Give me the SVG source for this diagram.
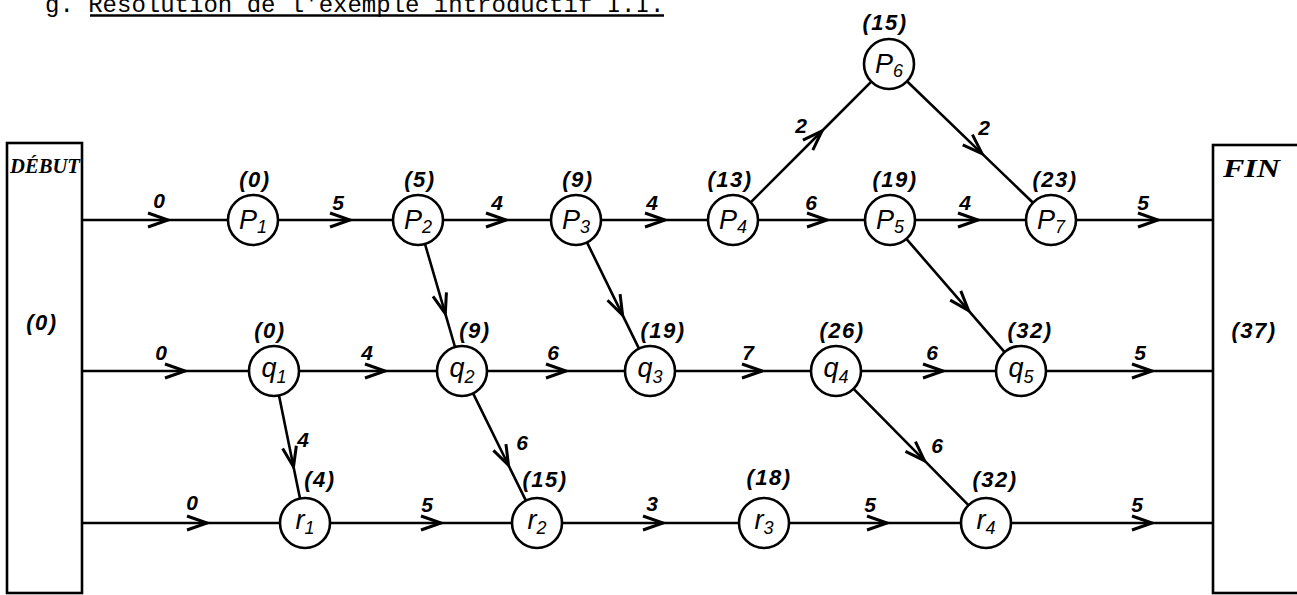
<svg xmlns="http://www.w3.org/2000/svg" width="1297" height="595" viewBox="0 0 1297 595">
<style>
.edge{fill:none;stroke:#000;stroke-width:2.6;marker-mid:url(#ah)}
.node circle{fill:#fff;stroke:#000;stroke-width:2.6}
.nl{font-family:"Liberation Sans",Arial,sans-serif;font-style:italic;font-size:27px;text-anchor:middle}
.sub{font-size:18px}
.tl{font-family:"Liberation Sans",Arial,sans-serif;font-style:italic;font-weight:bold;font-size:22px;text-anchor:middle;letter-spacing:1.5px}
.el{font-family:"Liberation Sans",Arial,sans-serif;font-style:italic;font-weight:bold;font-size:21px;text-anchor:middle}
.box{fill:#fff;stroke:#000;stroke-width:2.6}
.bt{font-family:"Liberation Serif","Times New Roman",serif;font-style:italic;font-weight:bold}
</style>
<defs>
<marker id="ah" markerUnits="userSpaceOnUse" markerWidth="40" markerHeight="40" viewBox="-20 -20 40 40" refX="0" refY="0" orient="auto" overflow="visible">
<path d="M-20,-7 L0,0 L-20,7" fill="none" stroke="#000" stroke-width="3"/>
</marker>
</defs>
<rect width="1297" height="595" fill="#fff"/>

<g id="title">
<text x="45" y="12" font-family="'Liberation Mono','Courier New',monospace" font-size="24">g. Résolution de l'exemple introductif I.I.</text>
<line x1="90" y1="15.5" x2="664" y2="15.5" stroke="#000" stroke-width="2.5"/>
</g>

<g id="debut">
<rect class="box" x="7" y="143" width="75" height="450"/>
<text class="bt" x="10" y="173" font-size="20" textLength="70" lengthAdjust="spacingAndGlyphs">DÉBUT</text>
<text class="tl" x="42" y="330" font-size="26" font-weight="normal">(0)</text>
</g>
<g id="fin">
<rect class="box" x="1213" y="145" width="90" height="448"/>
<text class="bt" x="1223" y="177" font-size="26" textLength="57" lengthAdjust="spacingAndGlyphs">FIN</text>
<text class="tl" x="1254" y="338" font-size="27" font-weight="normal">(37)</text>
</g>

<g id="connectors">
<path class="edge" d="M82,220 L168,220 L228,220"/>
<path class="edge" d="M278,220 L350,220 L393,220"/>
<path class="edge" d="M443,220 L506,220 L551,220"/>
<path class="edge" d="M601,220 L665,220 L708,220"/>
<path class="edge" d="M758,220 L827,220 L865,220"/>
<path class="edge" d="M915,220 L978,220 L1026,220"/>
<path class="edge" d="M1076,220 L1158,220 L1213,220"/>
<path class="edge" d="M750.7,202.3 L822,131 L871.3,81.7"/>
<path class="edge" d="M907,81.3 L982,153.6 L1033,202.7"/>
<path class="edge" d="M425,244 L445.3,313.6 L455,347"/>
<path class="edge" d="M587,242.4 L622.6,315.1 L639,348.6"/>
<path class="edge" d="M906.4,238.9 L968.6,310.6 L1004.6,352.1"/>

<path class="edge" d="M82,371 L185,371 L249,371"/>
<path class="edge" d="M299,371 L385,371 L437,371"/>
<path class="edge" d="M487,371 L566,371 L625,371"/>
<path class="edge" d="M675,371 L762,371 L811,371"/>
<path class="edge" d="M861,371 L943,371 L996,371"/>
<path class="edge" d="M1046,371 L1152,371 L1213,371"/>
<path class="edge" d="M279,395.5 L293.5,466.8 L300,498.5"/>
<path class="edge" d="M473.1,393.4 L508.5,465.2 L525.9,500.6"/>
<path class="edge" d="M853.6,388.8 L924.5,460.7 L968.4,505.2"/>

<path class="edge" d="M82,523 L207,523 L280,523"/>
<path class="edge" d="M330,523 L441,523 L512,523"/>
<path class="edge" d="M562,523 L663,523 L739,523"/>
<path class="edge" d="M789,523 L887,523 L961,523"/>
<path class="edge" d="M1011,523 L1152,523 L1213,523"/>

<text class="el" x="159" y="208">0</text>
<text class="el" x="338" y="210">5</text>
<text class="el" x="497" y="210">4</text>
<text class="el" x="652" y="210">4</text>
<text class="el" x="811" y="210">6</text>
<text class="el" x="965" y="210">4</text>
<text class="el" x="1143" y="210">5</text>
<text class="el" x="801" y="133">2</text>
<text class="el" x="984" y="135">2</text>
<text class="el" x="161" y="360">0</text>
<text class="el" x="367" y="360">4</text>
<text class="el" x="553" y="360">6</text>
<text class="el" x="748" y="360">7</text>
<text class="el" x="932" y="360">6</text>
<text class="el" x="1140" y="360">5</text>
<text class="el" x="303" y="447">4</text>
<text class="el" x="522" y="450">6</text>
<text class="el" x="937" y="453">6</text>
<text class="el" x="192" y="510">0</text>
<text class="el" x="427" y="512">5</text>
<text class="el" x="652" y="511">3</text>
<text class="el" x="870" y="512">5</text>
<text class="el" x="1137" y="512">5</text>
</g>

<g id="p1" class="node"><circle cx="253" cy="220" r="25"/><text class="nl" x="253" y="229">P<tspan class="sub" dy="4">1</tspan></text><text class="tl" x="255" y="187">(0)</text></g>
<g id="p2" class="node"><circle cx="418" cy="220" r="25"/><text class="nl" x="418" y="229">P<tspan class="sub" dy="4">2</tspan></text><text class="tl" x="420" y="187">(5)</text></g>
<g id="p3" class="node"><circle cx="576" cy="220" r="25"/><text class="nl" x="576" y="229">P<tspan class="sub" dy="4">3</tspan></text><text class="tl" x="578" y="187">(9)</text></g>
<g id="p4" class="node"><circle cx="733" cy="220" r="25"/><text class="nl" x="733" y="229">P<tspan class="sub" dy="4">4</tspan></text><text class="tl" x="730" y="187">(13)</text></g>
<g id="p5" class="node"><circle cx="890" cy="220" r="25"/><text class="nl" x="890" y="229">P<tspan class="sub" dy="4">5</tspan></text><text class="tl" x="895" y="187">(19)</text></g>
<g id="p6" class="node"><circle cx="889" cy="64" r="25"/><text class="nl" x="889" y="73">P<tspan class="sub" dy="4">6</tspan></text><text class="tl" x="885" y="30">(15)</text></g>
<g id="p7" class="node"><circle cx="1051" cy="220" r="25"/><text class="nl" x="1051" y="229">P<tspan class="sub" dy="4">7</tspan></text><text class="tl" x="1055" y="187">(23)</text></g>

<g id="q1" class="node"><circle cx="274" cy="371" r="25"/><text class="nl" x="274" y="377">q<tspan class="sub" dy="6">1</tspan></text><text class="tl" x="270" y="338">(0)</text></g>
<g id="q2" class="node"><circle cx="462" cy="371" r="25"/><text class="nl" x="462" y="377">q<tspan class="sub" dy="6">2</tspan></text><text class="tl" x="475" y="338">(9)</text></g>
<g id="q3" class="node"><circle cx="650" cy="371" r="25"/><text class="nl" x="650" y="377">q<tspan class="sub" dy="6">3</tspan></text><text class="tl" x="663" y="338">(19)</text></g>
<g id="q4" class="node"><circle cx="836" cy="371" r="25"/><text class="nl" x="836" y="377">q<tspan class="sub" dy="6">4</tspan></text><text class="tl" x="842" y="338">(26)</text></g>
<g id="q5" class="node"><circle cx="1021" cy="371" r="25"/><text class="nl" x="1021" y="377">q<tspan class="sub" dy="6">5</tspan></text><text class="tl" x="1030" y="338">(32)</text></g>

<g id="r1" class="node"><circle cx="305" cy="523" r="25"/><text class="nl" x="305" y="529">r<tspan class="sub" dy="5">1</tspan></text><text class="tl" x="320" y="487">(4)</text></g>
<g id="r2" class="node"><circle cx="537" cy="523" r="25"/><text class="nl" x="537" y="529">r<tspan class="sub" dy="5">2</tspan></text><text class="tl" x="545" y="487">(15)</text></g>
<g id="r3" class="node"><circle cx="764" cy="523" r="25"/><text class="nl" x="764" y="529">r<tspan class="sub" dy="5">3</tspan></text><text class="tl" x="769" y="485">(18)</text></g>
<g id="r4" class="node"><circle cx="986" cy="523" r="25"/><text class="nl" x="986" y="529">r<tspan class="sub" dy="5">4</tspan></text><text class="tl" x="995" y="487">(32)</text></g>
</svg>
